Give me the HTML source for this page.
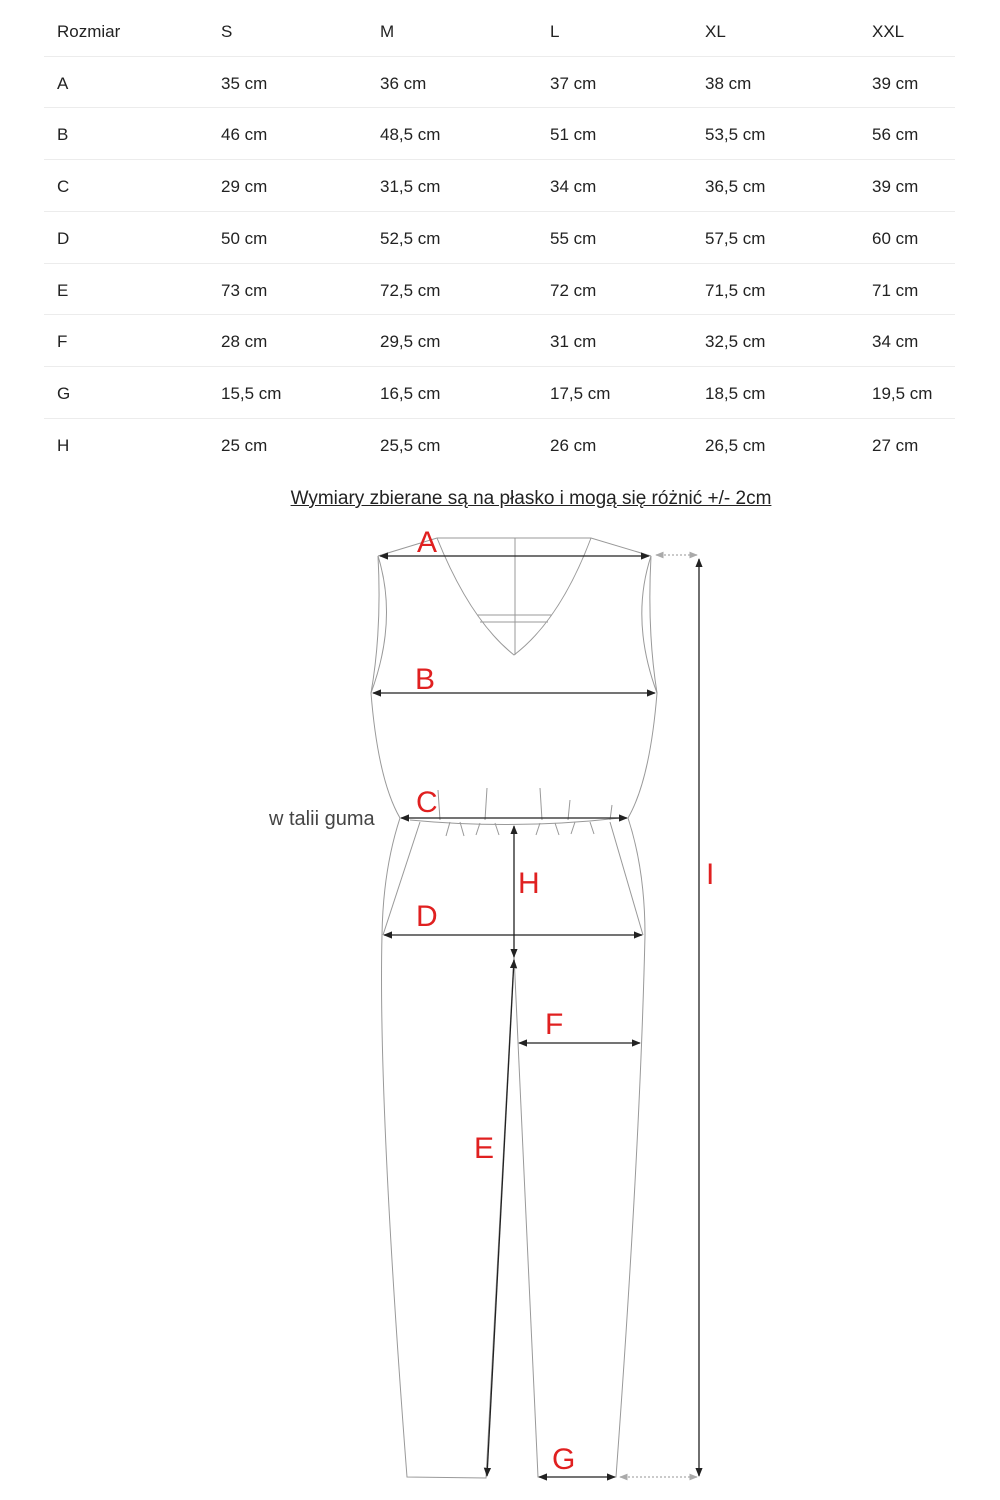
<!DOCTYPE html>
<html><head><meta charset="utf-8"><style>
html,body{margin:0;padding:0;background:#fff;}
body{width:1000px;height:1500px;position:relative;font-family:"Liberation Sans",sans-serif;color:#222;overflow:hidden;}
.t{position:absolute;font-size:17px;}
.h{font-weight:500;}
.sep{position:absolute;left:44px;width:911px;height:1px;background:#ececec;}
.cap{position:absolute;left:0;width:1062px;top:488px;text-align:center;font-size:19px;text-decoration:underline;color:#222;letter-spacing:0px;}
svg{position:absolute;left:0;top:0;}
</style></head><body>
<div class="t h" style="left:57px;top:22px">Rozmiar</div>
<div class="t h" style="left:221px;top:22px">S</div>
<div class="t h" style="left:380px;top:22px">M</div>
<div class="t h" style="left:550px;top:22px">L</div>
<div class="t h" style="left:705px;top:22px">XL</div>
<div class="t h" style="left:872px;top:22px">XXL</div>
<div class="sep" style="top:56px"></div>

<div class="t" style="left:57px;top:74px">A</div><div class="t" style="left:221px;top:74px">35 cm</div><div class="t" style="left:380px;top:74px">36 cm</div><div class="t" style="left:550px;top:74px">37 cm</div><div class="t" style="left:705px;top:74px">38 cm</div><div class="t" style="left:872px;top:74px">39 cm</div>
<div class="sep" style="top:107px"></div>
<div class="t" style="left:57px;top:125px">B</div><div class="t" style="left:221px;top:125px">46 cm</div><div class="t" style="left:380px;top:125px">48,5 cm</div><div class="t" style="left:550px;top:125px">51 cm</div><div class="t" style="left:705px;top:125px">53,5 cm</div><div class="t" style="left:872px;top:125px">56 cm</div>
<div class="sep" style="top:159px"></div>
<div class="t" style="left:57px;top:177px">C</div><div class="t" style="left:221px;top:177px">29 cm</div><div class="t" style="left:380px;top:177px">31,5 cm</div><div class="t" style="left:550px;top:177px">34 cm</div><div class="t" style="left:705px;top:177px">36,5 cm</div><div class="t" style="left:872px;top:177px">39 cm</div>
<div class="sep" style="top:211px"></div>
<div class="t" style="left:57px;top:229px">D</div><div class="t" style="left:221px;top:229px">50 cm</div><div class="t" style="left:380px;top:229px">52,5 cm</div><div class="t" style="left:550px;top:229px">55 cm</div><div class="t" style="left:705px;top:229px">57,5 cm</div><div class="t" style="left:872px;top:229px">60 cm</div>
<div class="sep" style="top:263px"></div>
<div class="t" style="left:57px;top:281px">E</div><div class="t" style="left:221px;top:281px">73 cm</div><div class="t" style="left:380px;top:281px">72,5 cm</div><div class="t" style="left:550px;top:281px">72 cm</div><div class="t" style="left:705px;top:281px">71,5 cm</div><div class="t" style="left:872px;top:281px">71 cm</div>
<div class="sep" style="top:314px"></div>
<div class="t" style="left:57px;top:332px">F</div><div class="t" style="left:221px;top:332px">28 cm</div><div class="t" style="left:380px;top:332px">29,5 cm</div><div class="t" style="left:550px;top:332px">31 cm</div><div class="t" style="left:705px;top:332px">32,5 cm</div><div class="t" style="left:872px;top:332px">34 cm</div>
<div class="sep" style="top:366px"></div>
<div class="t" style="left:57px;top:384px">G</div><div class="t" style="left:221px;top:384px">15,5 cm</div><div class="t" style="left:380px;top:384px">16,5 cm</div><div class="t" style="left:550px;top:384px">17,5 cm</div><div class="t" style="left:705px;top:384px">18,5 cm</div><div class="t" style="left:872px;top:384px">19,5 cm</div>
<div class="sep" style="top:418px"></div>
<div class="t" style="left:57px;top:436px">H</div><div class="t" style="left:221px;top:436px">25 cm</div><div class="t" style="left:380px;top:436px">25,5 cm</div><div class="t" style="left:550px;top:436px">26 cm</div><div class="t" style="left:705px;top:436px">26,5 cm</div><div class="t" style="left:872px;top:436px">27 cm</div>

<div class="cap">Wymiary zbierane są na płasko i mogą się różnić +/- 2cm</div>

<svg width="1000" height="1500" viewBox="0 0 1000 1500">
<defs>
<marker id="ar" viewBox="0 0 10 10" refX="9" refY="5" markerWidth="7" markerHeight="7" orient="auto-start-reverse"><path d="M0,1 L10,5 L0,9 z" fill="#222"/></marker>
<marker id="ag" viewBox="0 0 10 10" refX="9" refY="5" markerWidth="7" markerHeight="7" orient="auto-start-reverse"><path d="M0,1 L10,5 L0,9 z" fill="#aaa"/></marker>
</defs>
<g fill="none" stroke="#999" stroke-width="1">
<path d="M378,556 L437,538 L591,538 L651,556"/>
<path d="M437,538 Q470,620 514,655 Q560,620 591,538"/>
<path d="M515,538 V655"/>
<path d="M477,615 H552 M480,622 H548"/>
<path d="M378,556 Q398,620 371,693"/>
<path d="M378,556 Q382,630 371,693"/>
<path d="M651,556 Q630,620 657,693"/>
<path d="M651,556 Q647,630 657,693"/>
<path d="M371,693 Q378,780 400,818"/>
<path d="M657,693 Q650,780 628,818"/>
<path d="M410,820 Q514,830 620,818"/>
<path d="M400,818 Q383,870 382,935"/>
<path d="M420,822 L383,935"/>
<path d="M628,818 Q645,870 645,935"/>
<path d="M610,822 L643,935"/>
<path d="M382,935 Q378,1100 407,1477 L486,1478 L514,955"/>
<path d="M514,955 L538,1477 L616,1477 Q640,1150 645,935"/>
<path d="M450,822l-4,14M460,822l4,14M480,823l-4,12M495,823l4,12M540,823l-4,12M555,823l4,12M575,822l-4,12M590,822l4,12M438,790l2,30M487,788l-2,32M540,788l2,32M570,800l-2,20M612,805l-2,15"/>
</g>
<g stroke="#222" stroke-width="1.3" fill="none">
<line x1="380" y1="556" x2="649" y2="556" marker-start="url(#ar)" marker-end="url(#ar)"/>
<line x1="373" y1="693" x2="655" y2="693" marker-start="url(#ar)" marker-end="url(#ar)"/>
<line x1="401" y1="818" x2="627" y2="818" marker-start="url(#ar)" marker-end="url(#ar)"/>
<line x1="384" y1="935" x2="642" y2="935" marker-start="url(#ar)" marker-end="url(#ar)"/>
<line x1="514" y1="826" x2="514" y2="957" marker-start="url(#ar)" marker-end="url(#ar)"/>
<line x1="514" y1="960" x2="487" y2="1476" marker-start="url(#ar)" marker-end="url(#ar)"/>
<line x1="519" y1="1043" x2="640" y2="1043" marker-start="url(#ar)" marker-end="url(#ar)"/>
<line x1="539" y1="1477" x2="615" y2="1477" marker-start="url(#ar)" marker-end="url(#ar)"/>
<line x1="699" y1="559" x2="699" y2="1476" marker-start="url(#ar)" marker-end="url(#ar)"/>
</g>
<g stroke="#aaa" stroke-width="1.2" stroke-dasharray="2,2" fill="none">
<line x1="656" y1="555" x2="697" y2="555" marker-start="url(#ag)" marker-end="url(#ag)"/>
<line x1="620" y1="1477" x2="697" y2="1477" marker-start="url(#ag)" marker-end="url(#ag)"/>
</g>
<g fill="#e02020" font-family="Liberation Sans, sans-serif" font-size="30">
<text x="417" y="552">A</text>
<text x="415" y="689">B</text>
<text x="416" y="812">C</text>
<text x="518" y="893">H</text>
<text x="416" y="926">D</text>
<text x="545" y="1034">F</text>
<text x="474" y="1158">E</text>
<text x="552" y="1469">G</text>
<text x="706" y="884">I</text>
</g>
<text x="269" y="825" font-family="Liberation Sans, sans-serif" font-size="20" fill="#444">w talii guma</text>
</svg>
</body></html>
